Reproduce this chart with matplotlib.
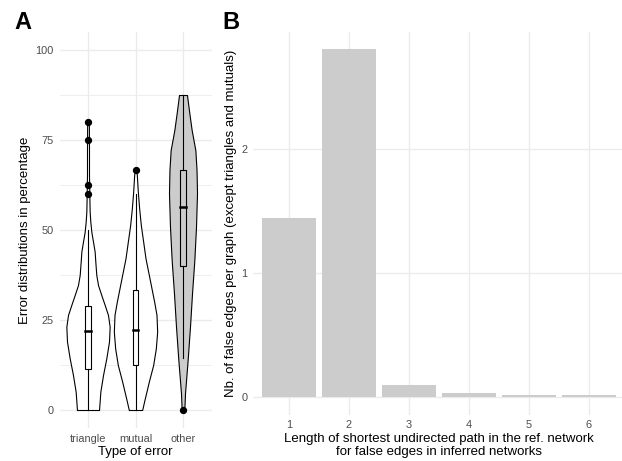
import matplotlib.pyplot as plt
from matplotlib.patches import Rectangle
import numpy as np

plt.rcParams['font.family'] = ['Liberation Sans', 'DejaVu Sans']

# ---------------- Panel A data (violin half-widths) ----------------
error_types = ["triangle", "mutual", "other"]

tri_y  = [0, 5.1, 9.7, 14.4, 19, 23.1, 26.4, 29.2, 31.9, 34.7, 37.5, 41.2, 44, 46.8, 49.5,
          52.3, 55.1, 59.7, 65.3, 72, 80]
tri_hw = [0.232, 0.260, 0.316, 0.386, 0.442, 0.456, 0.421, 0.351, 0.281, 0.211, 0.175, 0.154,
          0.140, 0.105, 0.070, 0.049, 0.035, 0.028, 0.021, 0.021, 0.018]

mut_y  = [0, 3.2, 7.9, 12.5, 17.1, 21.8, 26.4, 30.1, 33.8, 37.5, 42.1, 46.8, 51.4, 56, 60.6,
          65.3, 66.7]
mut_hw = [0.140, 0.196, 0.281, 0.372, 0.428, 0.456, 0.442, 0.393, 0.337, 0.281, 0.211, 0.161,
          0.112, 0.077, 0.049, 0.028, 0.014]

oth_y  = [0, 4.6, 13.9, 23.1, 32.4, 41.7, 50.9, 60.2, 66.7, 72.2, 77.8, 82.5, 87.5]
oth_hw = [0.028, 0.042, 0.098, 0.147, 0.190, 0.239, 0.274, 0.295, 0.285, 0.260, 0.182, 0.133, 0.084]

# box stats: whisker low, q1, median, q3, whisker high
box_stats = [
    [0, 11.3, 21.9, 28.9, 50.0],
    [0, 12.5, 22.2, 33.3, 60.0],
    [14.4, 40.0, 56.4, 66.7, 87.5],
]
outliers = [[60.0, 62.5, 75.0, 80.0], [66.7], [0.0]]
violin_fill = ["white", "white", "#cccccc"]

# ---------------- Panel B data ----------------
path_len = [1, 2, 3, 4, 5, 6]
false_edges = [1.445, 2.80, 0.10, 0.03, 0.015, 0.015]

grid_col = "#ebebeb"
tick_col = "#4d4d4d"

fig = plt.figure(figsize=(6.22, 4.61), dpi=100)

# ---------------- Panel A ----------------
axA = fig.add_axes([59.5/622, 33/461, 152/622, 396/461])
axA.set_xlim(0.4, 3.6)
axA.set_ylim(-5, 105)
for yv in [12.5, 37.5, 62.5, 87.5]:
    axA.axhline(yv, color=grid_col, lw=0.6, zorder=0)
for yv in [0, 25, 50, 75, 100]:
    axA.axhline(yv, color=grid_col, lw=1.0, zorder=0)
for xv in [1, 2, 3]:
    axA.axvline(xv, color=grid_col, lw=1.0, zorder=0)

profiles = [(tri_y, tri_hw), (mut_y, mut_hw), (oth_y, oth_hw)]
for i, (yy, hw) in enumerate(profiles):
    xc = i + 1
    yy = np.array(yy)
    hw = np.array(hw)
    axA.fill_betweenx(yy, xc - hw, xc + hw, facecolor=violin_fill[i],
                      edgecolor="black", lw=0.8, zorder=2)
    wlo, q1, med, q3, whi = box_stats[i]
    axA.plot([xc, xc], [wlo, q1], color="black", lw=0.8, zorder=3)
    axA.plot([xc, xc], [q3, whi], color="black", lw=0.8, zorder=3)
    axA.add_patch(Rectangle((xc - 0.055, q1), 0.11, q3 - q1, facecolor="none",
                            edgecolor="black", lw=0.8, zorder=3))
    axA.plot([xc - 0.055, xc + 0.055], [med, med], color="black", lw=1.8, zorder=3)
    axA.scatter([xc] * len(outliers[i]), outliers[i], s=18, color="black", zorder=4)

axA.set_xticks([1, 2, 3])
axA.set_xticklabels(error_types)
axA.set_yticks([0, 25, 50, 75, 100])
axA.set_xlabel("Type of error", fontsize=9.5, labelpad=2)
axA.set_ylabel("Error distributions in percentage", fontsize=9.5, labelpad=3)

# ---------------- Panel B ----------------
axB = fig.add_axes([253/622, 46.5/461, 372/622, 382.5/461])
axB.set_xlim(0.4, 6.6)
axB.set_ylim(-0.14, 2.94)
for yv in [0, 1, 2]:
    axB.axhline(yv, color=grid_col, lw=1.0, zorder=0)
for xv in path_len:
    axB.axvline(xv, color=grid_col, lw=1.0, zorder=0)
axB.bar(path_len, false_edges, width=0.9, color="#cccccc", zorder=2)
axB.set_xticks(path_len)
axB.set_yticks([0, 1, 2])
axB.set_xlabel("Length of shortest undirected path in the ref. network\nfor false edges in inferred networks",
               fontsize=9.5, labelpad=2, linespacing=1.15)
axB.set_ylabel("Nb. of false edges per graph (except triangles and mutuals)", fontsize=9.5, labelpad=3)

for ax in (axA, axB):
    for s in ax.spines.values():
        s.set_visible(False)
    ax.tick_params(length=0, labelsize=7.9, labelcolor=tick_col, pad=4)

fig.text(14/622, 1 - 29/461, "A", fontsize=17, fontweight="heavy")
fig.text(222/622, 1 - 29/461, "B", fontsize=17, fontweight="heavy")

fig.savefig("out.png", dpi=100)
